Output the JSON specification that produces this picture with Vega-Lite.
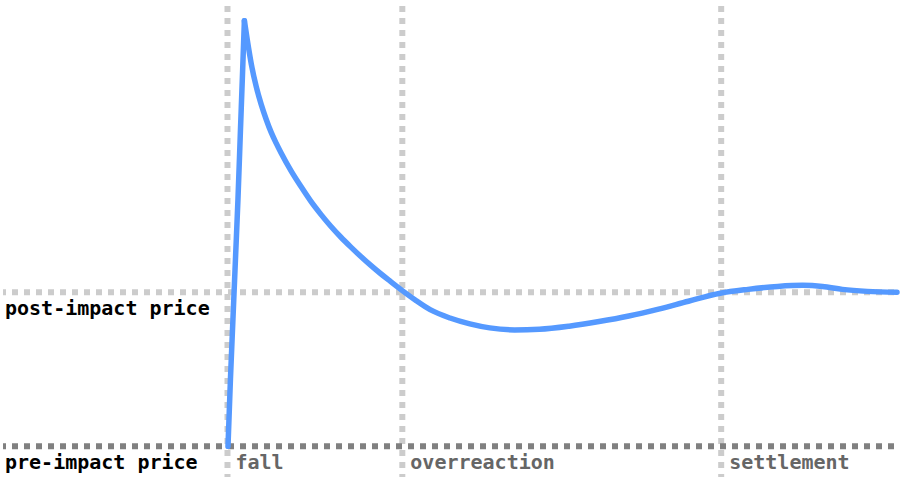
{
  "$schema": "https://vega.github.io/schema/vega-lite/v6.json",
  "width": 900,
  "height": 480,
  "autosize": {"type": "fit", "contains": "padding"},
  "padding": 0,
  "background": "white",
  "config": {"view": {"stroke": null}},
  "datasets": {
    "rise": [
      {"t": 226.5, "price": 0},
      {"t": 229, "price": 0.442},
      {"t": 231.5, "price": 0.827},
      {"t": 234, "price": 1.212},
      {"t": 236.5, "price": 1.596},
      {"t": 239, "price": 2.045},
      {"t": 241, "price": 2.397},
      {"t": 243, "price": 2.763}
    ],
    "decay": [
      {"t": 243, "price": 2.763},
      {"t": 246, "price": 2.635},
      {"t": 250, "price": 2.481},
      {"t": 255, "price": 2.333},
      {"t": 260, "price": 2.218},
      {"t": 265, "price": 2.122},
      {"t": 270, "price": 2.038},
      {"t": 275, "price": 1.968},
      {"t": 280, "price": 1.904},
      {"t": 290, "price": 1.788},
      {"t": 300, "price": 1.686},
      {"t": 310, "price": 1.590},
      {"t": 320, "price": 1.506},
      {"t": 330, "price": 1.429},
      {"t": 340, "price": 1.359},
      {"t": 350, "price": 1.295},
      {"t": 360, "price": 1.234},
      {"t": 370, "price": 1.176},
      {"t": 380, "price": 1.122},
      {"t": 390, "price": 1.071},
      {"t": 402, "price": 1.011},
      {"t": 415, "price": 0.950},
      {"t": 430, "price": 0.887},
      {"t": 450, "price": 0.833},
      {"t": 470, "price": 0.795},
      {"t": 490, "price": 0.769},
      {"t": 515, "price": 0.756},
      {"t": 540, "price": 0.760},
      {"t": 570, "price": 0.780},
      {"t": 600, "price": 0.810},
      {"t": 630, "price": 0.846},
      {"t": 660, "price": 0.891},
      {"t": 690, "price": 0.942},
      {"t": 722, "price": 0.994},
      {"t": 750, "price": 1.019},
      {"t": 780, "price": 1.038},
      {"t": 805, "price": 1.045},
      {"t": 825, "price": 1.038},
      {"t": 845, "price": 1.019},
      {"t": 870, "price": 1.006},
      {"t": 900, "price": 1.0}
    ],
    "phases": [
      {"phase": "fall", "start": 226},
      {"phase": "overreaction", "start": 402},
      {"phase": "settlement", "start": 723}
    ],
    "levels": [
      {"label": "post-impact price", "price": 1, "kind": "post"},
      {"label": "pre-impact price", "price": 0, "kind": "pre"}
    ]
  },
  "layer": [
    {
      "data": {"name": "phases"},
      "mark": {"type": "rule", "stroke": "#cccccc", "strokeWidth": 6, "strokeDash": [6, 6], "strokeDashOffset": 9},
      "encoding": {
        "x": {"field": "start", "type": "quantitative", "scale": {"domain": [0, 900], "nice": false, "zero": false}, "axis": null}
      }
    },
    {
      "data": {"name": "levels"},
      "mark": {"type": "rule", "strokeWidth": 6, "strokeDash": [6, 6], "strokeDashOffset": 9},
      "encoding": {
        "y": {"field": "price", "type": "quantitative", "scale": {"domain": [-0.199, 2.878], "nice": false, "zero": false}, "axis": null},
        "color": {"field": "kind", "type": "nominal", "scale": {"domain": ["post", "pre"], "range": ["#cccccc", "#808080"]}, "legend": null}
      }
    },
    {
      "data": {"name": "rise"},
      "mark": {"type": "line", "interpolate": "monotone", "stroke": "#5599ff", "strokeWidth": 5.5, "strokeCap": "round", "strokeJoin": "round"},
      "encoding": {
        "x": {"field": "t", "type": "quantitative"},
        "y": {"field": "price", "type": "quantitative"}
      }
    },
    {
      "data": {"name": "decay"},
      "mark": {"type": "line", "interpolate": "monotone", "stroke": "#5599ff", "strokeWidth": 5.5, "strokeCap": "round", "strokeJoin": "round"},
      "encoding": {
        "x": {"field": "t", "type": "quantitative"},
        "y": {"field": "price", "type": "quantitative"}
      }
    },
    {
      "data": {"name": "levels"},
      "mark": {"type": "text", "font": "DejaVu Sans Mono", "fontWeight": "bold", "fontSize": 20, "align": "left", "baseline": "alphabetic", "dx": 2, "dy": 23, "fill": "#000000"},
      "encoding": {
        "x": {"datum": 0, "type": "quantitative"},
        "y": {"field": "price", "type": "quantitative"},
        "text": {"field": "label"}
      }
    },
    {
      "data": {"name": "phases"},
      "mark": {"type": "text", "font": "DejaVu Sans Mono", "fontWeight": "bold", "fontSize": 20, "align": "left", "baseline": "alphabetic", "dx": 8, "dy": 23, "fill": "#666666"},
      "encoding": {
        "x": {"field": "start", "type": "quantitative"},
        "y": {"datum": 0, "type": "quantitative"},
        "text": {"field": "phase"}
      }
    }
  ]
}
